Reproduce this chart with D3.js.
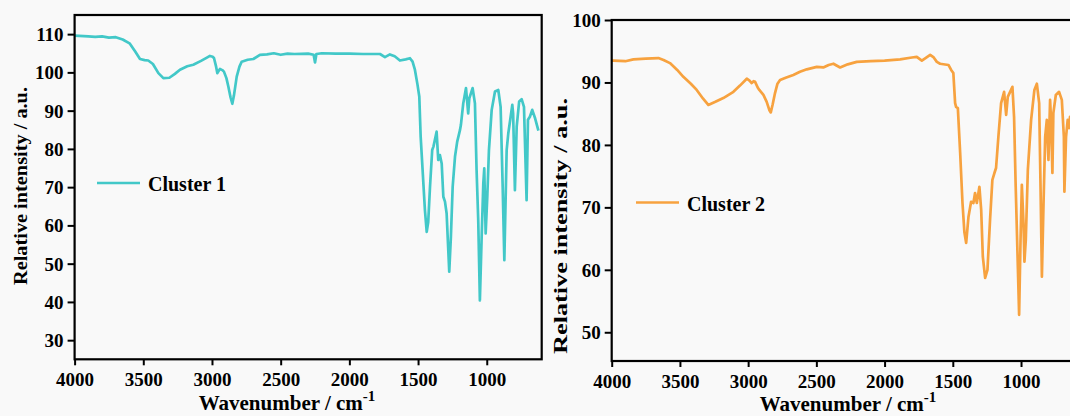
<!DOCTYPE html>
<html>
<head>
<meta charset="utf-8">
<script src="https://cdn.jsdelivr.net/npm/d3@7"></script>
<style>
  html, body { margin: 0; padding: 0; background: #f9f9f9; }
  svg { display: block; }
  text { font-family: "Liberation Serif", "Times New Roman", serif; font-weight: bold; fill: #000; }
</style>
</head>
<body>
<svg id="chart" width="1070" height="416"></svg>
<script>
// FTIR spectra of two clusters (wavenumber in cm^-1, relative intensity in a.u.)
const cluster1Wavenumber = [4000,3900,3850,3800,3750,3700,3650,3600,3560,3524,3490,3464,3430,3390,3354,3310,3270,3233,3180,3136,3080,3040,3015,2995,2985,2970,2961,2950,2942,2925,2913,2895,2881,2865,2852,2840,2820,2800,2784,2740,2699,2651,2600,2550,2500,2450,2400,2300,2260,2250,2240,2200,2100,2000,1900,1800,1777,1741,1705,1670,1632,1590,1559,1540,1523,1505,1491,1481,1467,1450,1437,1426,1413,1397,1388,1365,1353,1341,1328,1316,1304,1292,1280,1273,1261,1248,1231,1215,1195,1188,1171,1151,1135,1127,1103,1086,1074,1062,1050,1037,1025,1018,1008,996,984,964,940,916,899,884,872,855,843,826,814,808,795,782,764,746,729,710,700,686,669,648,624];
const cluster1Intensity = [109.6,109.4,109.3,109.4,109.1,109.2,108.6,107.6,105.5,103.5,103.2,103.1,102.2,99.8,98.5,98.6,99.6,100.7,101.6,102,103,103.8,104.3,104.1,103.7,101.5,99.8,100.5,100.9,100.6,100.2,98.5,96.3,93.5,91.8,94,98.9,101.5,102.8,103.3,103.5,104.6,104.7,105,104.6,104.9,104.8,104.9,104.6,102.6,104.8,105,104.9,104.9,104.8,104.8,104.8,104,104.7,104.2,103.1,103.4,103.7,102.8,100.7,97,93.7,83.2,74.5,64,58.3,60.9,70.1,79.7,80.6,84.5,77.1,78.4,76.2,67.5,66.2,63.1,53.5,47.9,57,70.1,78,81.9,84.9,86.3,91.9,95.9,89.3,93.2,95.9,91.9,74.5,61.4,40.4,57,71,74.9,57.9,67.5,79.7,90.2,95,95.4,91,70.1,50.9,79.7,84.1,88.4,91.5,89.3,69.2,85.8,92.4,93,91,66.6,87.6,88.4,90.2,88,84.8];

const cluster2Wavenumber = [4000,3988,3900,3841,3750,3658,3620,3573,3520,3475,3420,3377,3330,3292,3240,3182,3108,3060,3010,2990,2974,2960,2949,2930,2918,2888,2864,2845,2834,2820,2803,2785,2766,2720,2669,2620,2570,2497,2449,2410,2375,2326,2270,2204,2100,2000,1886,1800,1764,1727,1700,1666,1640,1617,1593,1532,1512,1496,1483,1476,1463,1446,1429,1415,1402,1385,1366,1349,1337,1324,1305,1292,1280,1263,1246,1227,1210,1195,1183,1166,1146,1124,1109,1097,1063,1051,1039,1026,1014,1004,994,982,975,965,950,926,902,884,867,857,847,835,823,811,799,787,780,770,763,745,721,701,686,682,670,658,648,641,625];
const cluster2Intensity = [93.5,93.5,93.4,93.7,93.8,93.9,93.6,93.1,92,90.9,89.8,88.8,87.4,86.4,86.9,87.5,88.5,89.5,90.6,90.3,89.9,90.2,90.1,89.2,88.8,88,86.9,85.6,85.2,86.5,88.3,89.8,90.4,90.8,91.2,91.7,92.1,92.5,92.4,92.8,93,92.4,92.9,93.3,93.4,93.5,93.7,94,94.1,93.5,93.9,94.4,94,93.3,93,92.8,92,91.5,86.7,86.1,85.9,78.7,70.7,66,64.3,68.5,70.9,70.7,72.3,70.7,73.3,69.6,62.1,58.7,60,68,74.4,75.5,76.3,81.3,86.7,88.5,84.8,87.7,89.3,84.5,73.3,62.7,52.8,64.3,73.6,67.5,61.3,64.8,76,84,88.8,89.8,86.7,73.3,58.9,70.7,81.3,84,77.6,87.2,84,75.5,85.1,88,88.5,87.2,81.3,72.5,81.3,84,82.7,84.5,84.5];

const xTicks = [4000, 3500, 3000, 2500, 2000, 1500, 1000];
const yTicks1 = [30, 40, 50, 60, 70, 80, 90, 100, 110];
const yTicks2 = [50, 60, 70, 80, 90, 100];
const seriesNames = ["Cluster 1", "Cluster 2"];
const seriesColors = ["#42c8c8", "#f7a23f"];

const svg = d3.select("#chart");

function drawPanel(cfg) {
  const g = svg.append("g");
  const x = d3.scaleLinear().domain([4000, 600]).range([cfg.left, cfg.right]);
  const y = d3.scaleLinear().domain(cfg.yDomain).range([cfg.bottom, cfg.top]);

  const clipId = "clip-" + cfg.id;
  svg.append("clipPath").attr("id", clipId)
    .append("rect")
    .attr("x", cfg.left).attr("y", cfg.top)
    .attr("width", cfg.right - cfg.left).attr("height", cfg.bottom - cfg.top);

  // spectrum
  const pts = cfg.wn.map((w, i) => [w, cfg.val[i]]);
  g.append("path")
    .datum(pts)
    .attr("clip-path", `url(#${clipId})`)
    .attr("fill", "none")
    .attr("stroke", cfg.color)
    .attr("stroke-width", 2.7)
    .attr("stroke-linejoin", "round")
    .attr("d", d3.line().x(d => x(d[0])).y(d => y(d[1])));

  // axes
  const xAxis = g.append("g")
    .attr("transform", `translate(0,${cfg.bottom})`)
    .call(d3.axisBottom(x).tickValues(xTicks).tickSize(6).tickPadding(5).tickFormat(d3.format("d")));
  const yAxis = g.append("g")
    .attr("transform", `translate(${cfg.left},0)`)
    .call(d3.axisLeft(y).tickValues(cfg.yTicks).tickSize(7).tickPadding(4).tickFormat(d3.format("d")));
  [xAxis, yAxis].forEach(a => {
    a.select(".domain").remove();
    a.selectAll(".tick line").attr("stroke", "#000").attr("stroke-width", 2);
    a.selectAll(".tick text")
      .style("font-family", '"Liberation Serif", "Times New Roman", serif')
      .style("font-weight", "bold")
      .style("font-size", "19px")
      .attr("fill", "#000");
  });
  yAxis.selectAll(".tick text").attr("dy", "0.34em");
  xAxis.selectAll(".tick text").attr("dy", "0.85em");

  // frame
  g.append("rect")
    .attr("x", cfg.left).attr("y", cfg.top)
    .attr("width", cfg.right - cfg.left).attr("height", cfg.bottom - cfg.top)
    .attr("fill", "none").attr("stroke", "#000").attr("stroke-width", 2.2);

  // axis titles
  const xt = g.append("text")
    .attr("x", cfg.xTitleX).attr("y", cfg.xTitleY)
    .attr("text-anchor", "middle")
    .style("font-size", "21px");
  xt.append("tspan").text("Wavenumber / cm");
  xt.append("tspan").attr("dy", -9).style("font-size", "15px").text("-1");

  g.append("text")
    .attr("transform", `translate(${cfg.yTitleX},${cfg.yTitleY}) rotate(-90)`)
    .attr("text-anchor", "middle")
    .attr("textLength", cfg.yTitleLen)
    .attr("lengthAdjust", "spacingAndGlyphs")
    .style("font-size", "19px")
    .text("Relative intensity / a.u.");

  // legend
  g.append("line")
    .attr("x1", cfg.legX).attr("x2", cfg.legX + 43)
    .attr("y1", cfg.legY).attr("y2", cfg.legY)
    .attr("stroke", cfg.color).attr("stroke-width", 2.7);
  g.append("text")
    .attr("x", cfg.legX + 51).attr("y", cfg.legY + 8)
    .style("font-size", "20px")
    .text(cfg.name);
}

drawPanel({
  id: "c1", left: 74.6, right: 541.7, top: 15, bottom: 359.3,
  yDomain: [25, 115], yTicks: yTicks1,
  wn: cluster1Wavenumber, val: cluster1Intensity,
  color: seriesColors[0], name: seriesNames[0],
  xTitleX: 287, xTitleY: 410,
  yTitleX: 27, yTitleY: 186, yTitleLen: 198,
  legX: 97, legY: 183
});

drawPanel({
  id: "c2", left: 611.7, right: 1075.6, top: 20, bottom: 361,
  yDomain: [45.4, 100], yTicks: yTicks2,
  wn: cluster2Wavenumber, val: cluster2Intensity,
  color: seriesColors[1], name: seriesNames[1],
  xTitleX: 848, xTitleY: 411,
  yTitleX: 567, yTitleY: 226, yTitleLen: 256,
  legX: 636, legY: 202.5
});
</script>
</body>
</html>
